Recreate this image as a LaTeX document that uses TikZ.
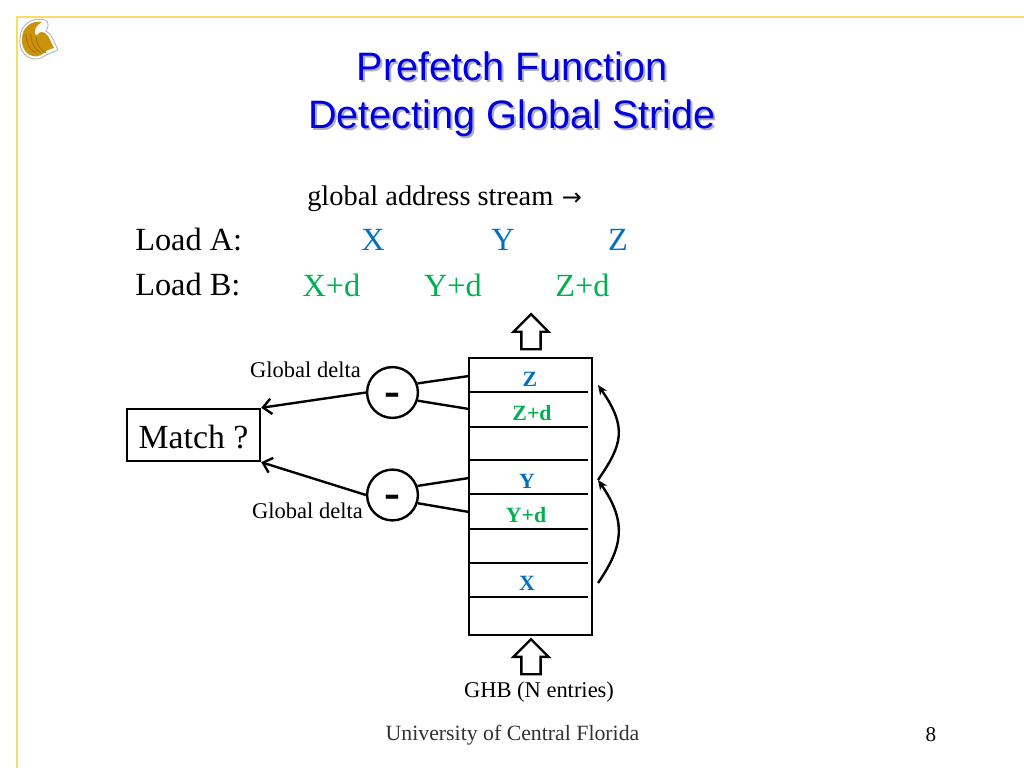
\documentclass[tikz,border=0pt]{standalone}
\usepackage{fontspec}
\usepackage{xcolor}
\usetikzlibrary{arrows.meta, positioning, shapes}
\setmainfont{Liberation Serif}
\newfontfamily\titlefont{Liberation Sans}
\newfontfamily\symfont{DejaVu Sans}
\definecolor{myframe}{RGB}{247, 222, 96}
\definecolor{mytitle}{RGB}{0, 0, 225}
\definecolor{myshadow}{RGB}{175, 175, 185}
\definecolor{myblue}{RGB}{0, 112, 192}
\definecolor{mygreen}{RGB}{0, 176, 80}
\definecolor{mygold}{RGB}{203, 147, 12}
\definecolor{mygolddark}{RGB}{165, 112, 10}
\definecolor{myfoot}{RGB}{50, 50, 50}
\newcommand{\titletext}{Prefetch Function\\Detecting Global Stride}
\begin{document}
\begin{tikzpicture}[x=0.025cm,y=-0.025cm,
          every node/.style={inner sep=0pt},
          heavy/.style={line width=1.7pt},
          ghbtext/.style={font=\fontsize{16}{18}\selectfont},
          loadtext/.style={font=\fontsize{23}{26}\selectfont},
          entry/.style={font=\fontsize{15.5}{18}\selectfont\bfseries},
          titletxt/.style={font=\titlefont\fontsize{28.2}{34}\selectfont,align=center},
          subbox/.style={draw,heavy,circle,fill=white,minimum size=1.27cm},
          minus/.style={font=\fontsize{34}{34}\selectfont\bfseries},
          hollow/.style={draw,heavy,single arrow,shape border rotate=90,inner sep=.21cm,
                      minimum height=.875cm,minimum width=.85cm,
                      single arrow head extend=.2cm,single arrow tip angle=90},
          flow/.style={heavy,-{Straight Barb[length=6pt,width=11pt]}},
          step arrow/.style={heavy,-{Stealth[length=7pt,width=6pt]}}]
        \useasboundingbox (0,0) rectangle (1024,768);
        \fill[white] (0,0) rectangle (1024,768);
        \draw[myframe,line width=1.8pt] (1024,17) -- (17,17) -- (17,768);
        % logo
        \fill[white,draw=gray!60,line width=.6pt] (20,38) .. controls (21,24) and (32,17) .. (45,20)
          .. controls (50,22) and (48,28) .. (46,31) .. controls (52,34) and (54,42) .. (58,50)
          .. controls (52,52) and (50,54) .. (46,55) .. controls (36,64) and (18,58) .. (20,38) -- cycle;
        \fill[mygold] (22,39) .. controls (22,27) and (32,20) .. (42,22)
          .. controls (36,25) and (33,31) .. (36,37) .. controls (38,34) and (40,30) .. (45,33)
          .. controls (50,37) and (51,43) .. (54,48) .. controls (50,49) and (47,50) .. (44,53)
          .. controls (35,61) and (21,54) .. (22,39) -- cycle;
        \foreach \i in {26,31,36}
          \draw[mygolddark,line width=.6pt] (\i,34) .. controls (\i,44) and (\i+4,50) .. (\i+10,53);
        % title
        \node[titletxt,text=myshadow] (titleshadow) at (514,96) {\titletext};
        \node[titletxt,text=mytitle] (title) at (512,94) {\titletext};
        % stream
        \node[anchor=base west,font=\fontsize{20.2}{24}\selectfont] (stream) at (307,205)
          {global address stream\hspace{6pt}{\symfont\fontsize{17}{20}\selectfont →}};
        \node[loadtext,anchor=west] (loada) at (135,240) {Load A:};
        \node[loadtext,anchor=west] (loadb) at (135,285) {Load B:};
        \node[loadtext,text=myblue] (xa) at (373,240) {X};
        \node[loadtext,text=myblue] (ya) at (503,240) {Y};
        \node[loadtext,text=myblue] (za) at (618,240) {Z};
        \node[loadtext,text=mygreen] (xb) at (331.5,285) {X+d};
        \node[loadtext,text=mygreen] (yb) at (453,285) {Y+d};
        \node[loadtext,text=mygreen] (zb) at (582.5,285) {Z+d};
        % ghb
        \node[draw,heavy,minimum width=3.075cm,minimum height=6.925cm] (ghb) at (530.5,496.5) {};
        \foreach \y in {392,427,460,494,529,563,597}
          \draw[heavy] (469,\y) -- (588,\y);
        \node[entry,text=myblue] (ez) at (530,379) {Z};
        \node[entry,text=mygreen] (ezd) at (532,413) {Z+d};
        \node[entry,text=myblue] (ey) at (527,481) {Y};
        \node[entry,text=mygreen] (eyd) at (526,515) {Y+d};
        \node[entry,text=myblue] (ex) at (527,583) {X};
        \node[hollow] (ghbout) at (531,336.5) {};
        \node[hollow] (ghbin) at (531,661.5) {};
        \node[ghbtext] (ghblabel) at (539,692) {GHB (N entries)};
        % subtract
        \node[subbox] (subz) at (392.5,392.5) {};
        \node[subbox] (suby) at (392.5,495) {};
        \node[minus] (minusz) at (392.5,400) {-};
        \node[minus] (minusy) at (392.5,502) {-};
        \node[draw,heavy,minimum width=3.325cm,minimum height=1.3cm,text height=19pt,
              font=\fontsize{24}{28}\selectfont] (match) at (193.5,435) {Match ?};
        \node[ghbtext] (deltaz) at (305.5,370) {Global delta};
        \node[ghbtext] (deltay) at (307.5,511) {Global delta};
        \coordinate (ghbz) at (469,376);
        \coordinate (ghbzd) at (469,409);
        \coordinate (ghby) at (469,478);
        \coordinate (ghbyd) at (469,512);
        \draw[heavy] (subz.20) -- (ghbz);
        \draw[heavy] (subz.-18) -- (ghbzd);
        \draw[heavy] (suby.20) -- (ghby);
        \draw[heavy] (suby.-18) -- (ghbyd);
        \draw[flow] (subz.west) -- (match.north east);
        \draw[flow] (suby.west) -- (match.south east);
        % history links
        \coordinate (linkx) at (598,583);
        \coordinate (linky) at (598,480);
        \coordinate (linkz) at (598,385);
        \draw[step arrow] (linkx) .. controls (622,548) and (628,523) .. (linky);
        \draw[step arrow] (linky) .. controls (622,445) and (628,428) .. (linkz);
        % footer
        \node[anchor=base,text=myfoot,font=\fontsize{15.5}{18}\selectfont] (footer) at (512.5,740) {University of Central Florida};
        \node[anchor=base,font=\fontsize{15}{18}\selectfont] (pageno) at (931,741) {8};
      \end{tikzpicture}
\end{document}
